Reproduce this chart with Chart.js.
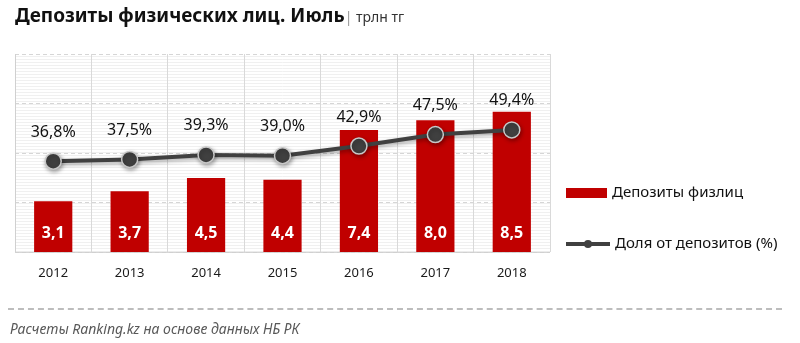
<!DOCTYPE html>
<html>
<head>
<meta charset="utf-8">
<script src="https://cdn.jsdelivr.net/npm/chart.js@4"></script>
<style>
  body { margin: 0; background: #fff; font-family: "Noto Sans", "Open Sans", sans-serif; }
  .wrap { position: relative; width: 800px; height: 343px; overflow: hidden; }
  #chart { position: absolute; left: 0; top: 0; }
  .title { position: absolute; left: 15px; top: 2px; font-size: 19px; font-weight: bold; color: #111; white-space: nowrap; }
  .title span { font-size: 14px; font-weight: normal; color: #333; }
  .title span b { color: #999; font-weight: normal; }
  .legend { position: absolute; left: 566px; font-size: 15px; color: #111; white-space: nowrap; }
  .legend i { display: inline-block; vertical-align: middle; margin-right: 5px; }
  .sw-bar { width: 41px; height: 10px; background: #c00000; }
  .sw-line { width: 44px; height: 10px; position: relative; }
  .sw-line:before { content: ""; position: absolute; left: 0; right: 0; top: 3px; height: 4px; background: #404040; }
  .sw-line:after { content: ""; position: absolute; left: 18px; top: 1px; width: 8px; height: 8px; border-radius: 50%; background: #404040; }
  .footer-line { position: absolute; left: 8px; width: 774px; top: 308px; border-top: 2px dashed #bdbdbd; }
  .source { position: absolute; left: 10px; top: 319px; font-size: 14px; font-style: italic; color: #595959; }
</style>
</head>
<body>
<div class="wrap">
  <canvas id="chart" width="800" height="343"></canvas>
  <div class="title">Депозиты физических лиц. Июль<span><b>|</b> трлн тг</span></div>
  <div class="legend" style="top:181px"><i class="sw-bar"></i>Депозиты физлиц</div>
  <div class="legend" style="top:232px"><i class="sw-line"></i>Доля от депозитов (%)</div>
  <div class="footer-line"></div>
  <div class="source">Расчеты Ranking.kz на основе данных  НБ РК</div>
</div>
<script>
const years = ['2012', '2013', '2014', '2015', '2016', '2017', '2018'];
const deposits = [3.1, 3.7, 4.5, 4.4, 7.4, 8.0, 8.5];
const shares = [36.8, 37.5, 39.3, 39.0, 42.9, 47.5, 49.4];

const fmt = v => v.toFixed(1).replace('.', ',');

//========================
// striped plot background + frame
//========================
const stripes = {
  id: 'stripes',
  beforeDraw(chart) {
    const { ctx, chartArea: a } = chart;
    ctx.save();
    ctx.fillStyle = '#ffffff';
    ctx.fillRect(a.left, a.top, a.right - a.left, a.bottom - a.top);
    ctx.strokeStyle = '#f0f0f0';
    ctx.lineWidth = 1;
    for (let y = a.top + 2.5; y < a.bottom; y += 3) {
      ctx.beginPath();
      ctx.moveTo(a.left, y);
      ctx.lineTo(a.right, y);
      ctx.stroke();
    }
    ctx.restore();
  },
  beforeDatasetsDraw(chart) {
    const { ctx, chartArea: a } = chart;
    ctx.save();
    ctx.strokeStyle = '#d0d0d0';
    ctx.lineWidth = 1;
    ctx.beginPath();
    ctx.moveTo(Math.round(a.left) + 0.5, a.top);
    ctx.lineTo(Math.round(a.left) + 0.5, a.bottom);
    ctx.lineTo(a.right, a.bottom);
    ctx.stroke();
    ctx.restore();
  },
  // soft shadow under the share line
  beforeDatasetDraw(chart, args) {
    if (args.index !== 0) return;
    const ctx = chart.ctx;
    ctx.save();
    ctx.shadowColor = 'rgba(0, 0, 0, 0.35)';
    ctx.shadowBlur = 4;
    ctx.shadowOffsetX = 1;
    ctx.shadowOffsetY = 2;
  },
  afterDatasetDraw(chart, args) {
    if (args.index !== 0) return;
    chart.ctx.restore();
  }
};

//========================
// value labels
//========================
const valueLabels = {
  id: 'valueLabels',
  afterDatasetsDraw(chart) {
    const { ctx, chartArea: a } = chart;
    ctx.save();
    ctx.textAlign = 'center';
    ctx.textBaseline = 'middle';

    chart.getDatasetMeta(1).data.forEach((bar, i) => {
      ctx.font = 'bold 16px "Noto Sans", sans-serif';
      ctx.fillStyle = '#ffffff';
      ctx.fillText(fmt(deposits[i]), bar.x, a.bottom - 19);
    });

    chart.getDatasetMeta(0).data.forEach((pt, i) => {
      ctx.font = '16px "Noto Sans", sans-serif';
      ctx.fillStyle = '#111111';
      ctx.fillText(fmt(shares[i]) + '%', pt.x, pt.y - 29);
    });
    ctx.restore();
  }
};

const ctx = document.getElementById('chart').getContext('2d');

new Chart(ctx, {
  data: {
    labels: years,
    datasets: [
      {
        type: 'line',
        label: 'Доля от депозитов (%)',
        data: shares,
        yAxisID: 'yShare',
        borderColor: '#404040',
        borderWidth: 4,
        pointRadius: 8,
        pointBackgroundColor: '#404040',
        pointBorderColor: '#c8c8c8',
        pointBorderWidth: 1.5,
        tension: 0,
        order: 0
      },
      {
        type: 'bar',
        label: 'Депозиты физлиц',
        data: deposits,
        yAxisID: 'yDep',
        backgroundColor: '#c00000',
        barPercentage: 0.5,
        categoryPercentage: 1,
        order: 1
      }
    ]
  },
  options: {
    responsive: false,
    animation: false,
    layout: { padding: { left: 15, right: 250, top: 54, bottom: 49 } },
    plugins: { legend: { display: false }, tooltip: { enabled: false } },
    scales: {
      x: {
        offset: true,
        grid: { color: '#d9d9d9', offset: true, drawTicks: false },
        border: { display: false },
        ticks: { color: '#1a1a1a', font: { size: 13, family: '"Noto Sans", sans-serif' }, padding: 13 }
      },
      yDep: {
        position: 'left',
        min: 0, max: 12,
        ticks: { stepSize: 3, display: false },
        grid: { color: '#d6d6d6', drawTicks: false },
        border: { display: false, dash: [4, 3] }
      },
      yShare: {
        position: 'right',
        min: 0, max: 80,
        display: false
      }
    }
  },
  plugins: [stripes, valueLabels]
});
</script>
</body>
</html>
